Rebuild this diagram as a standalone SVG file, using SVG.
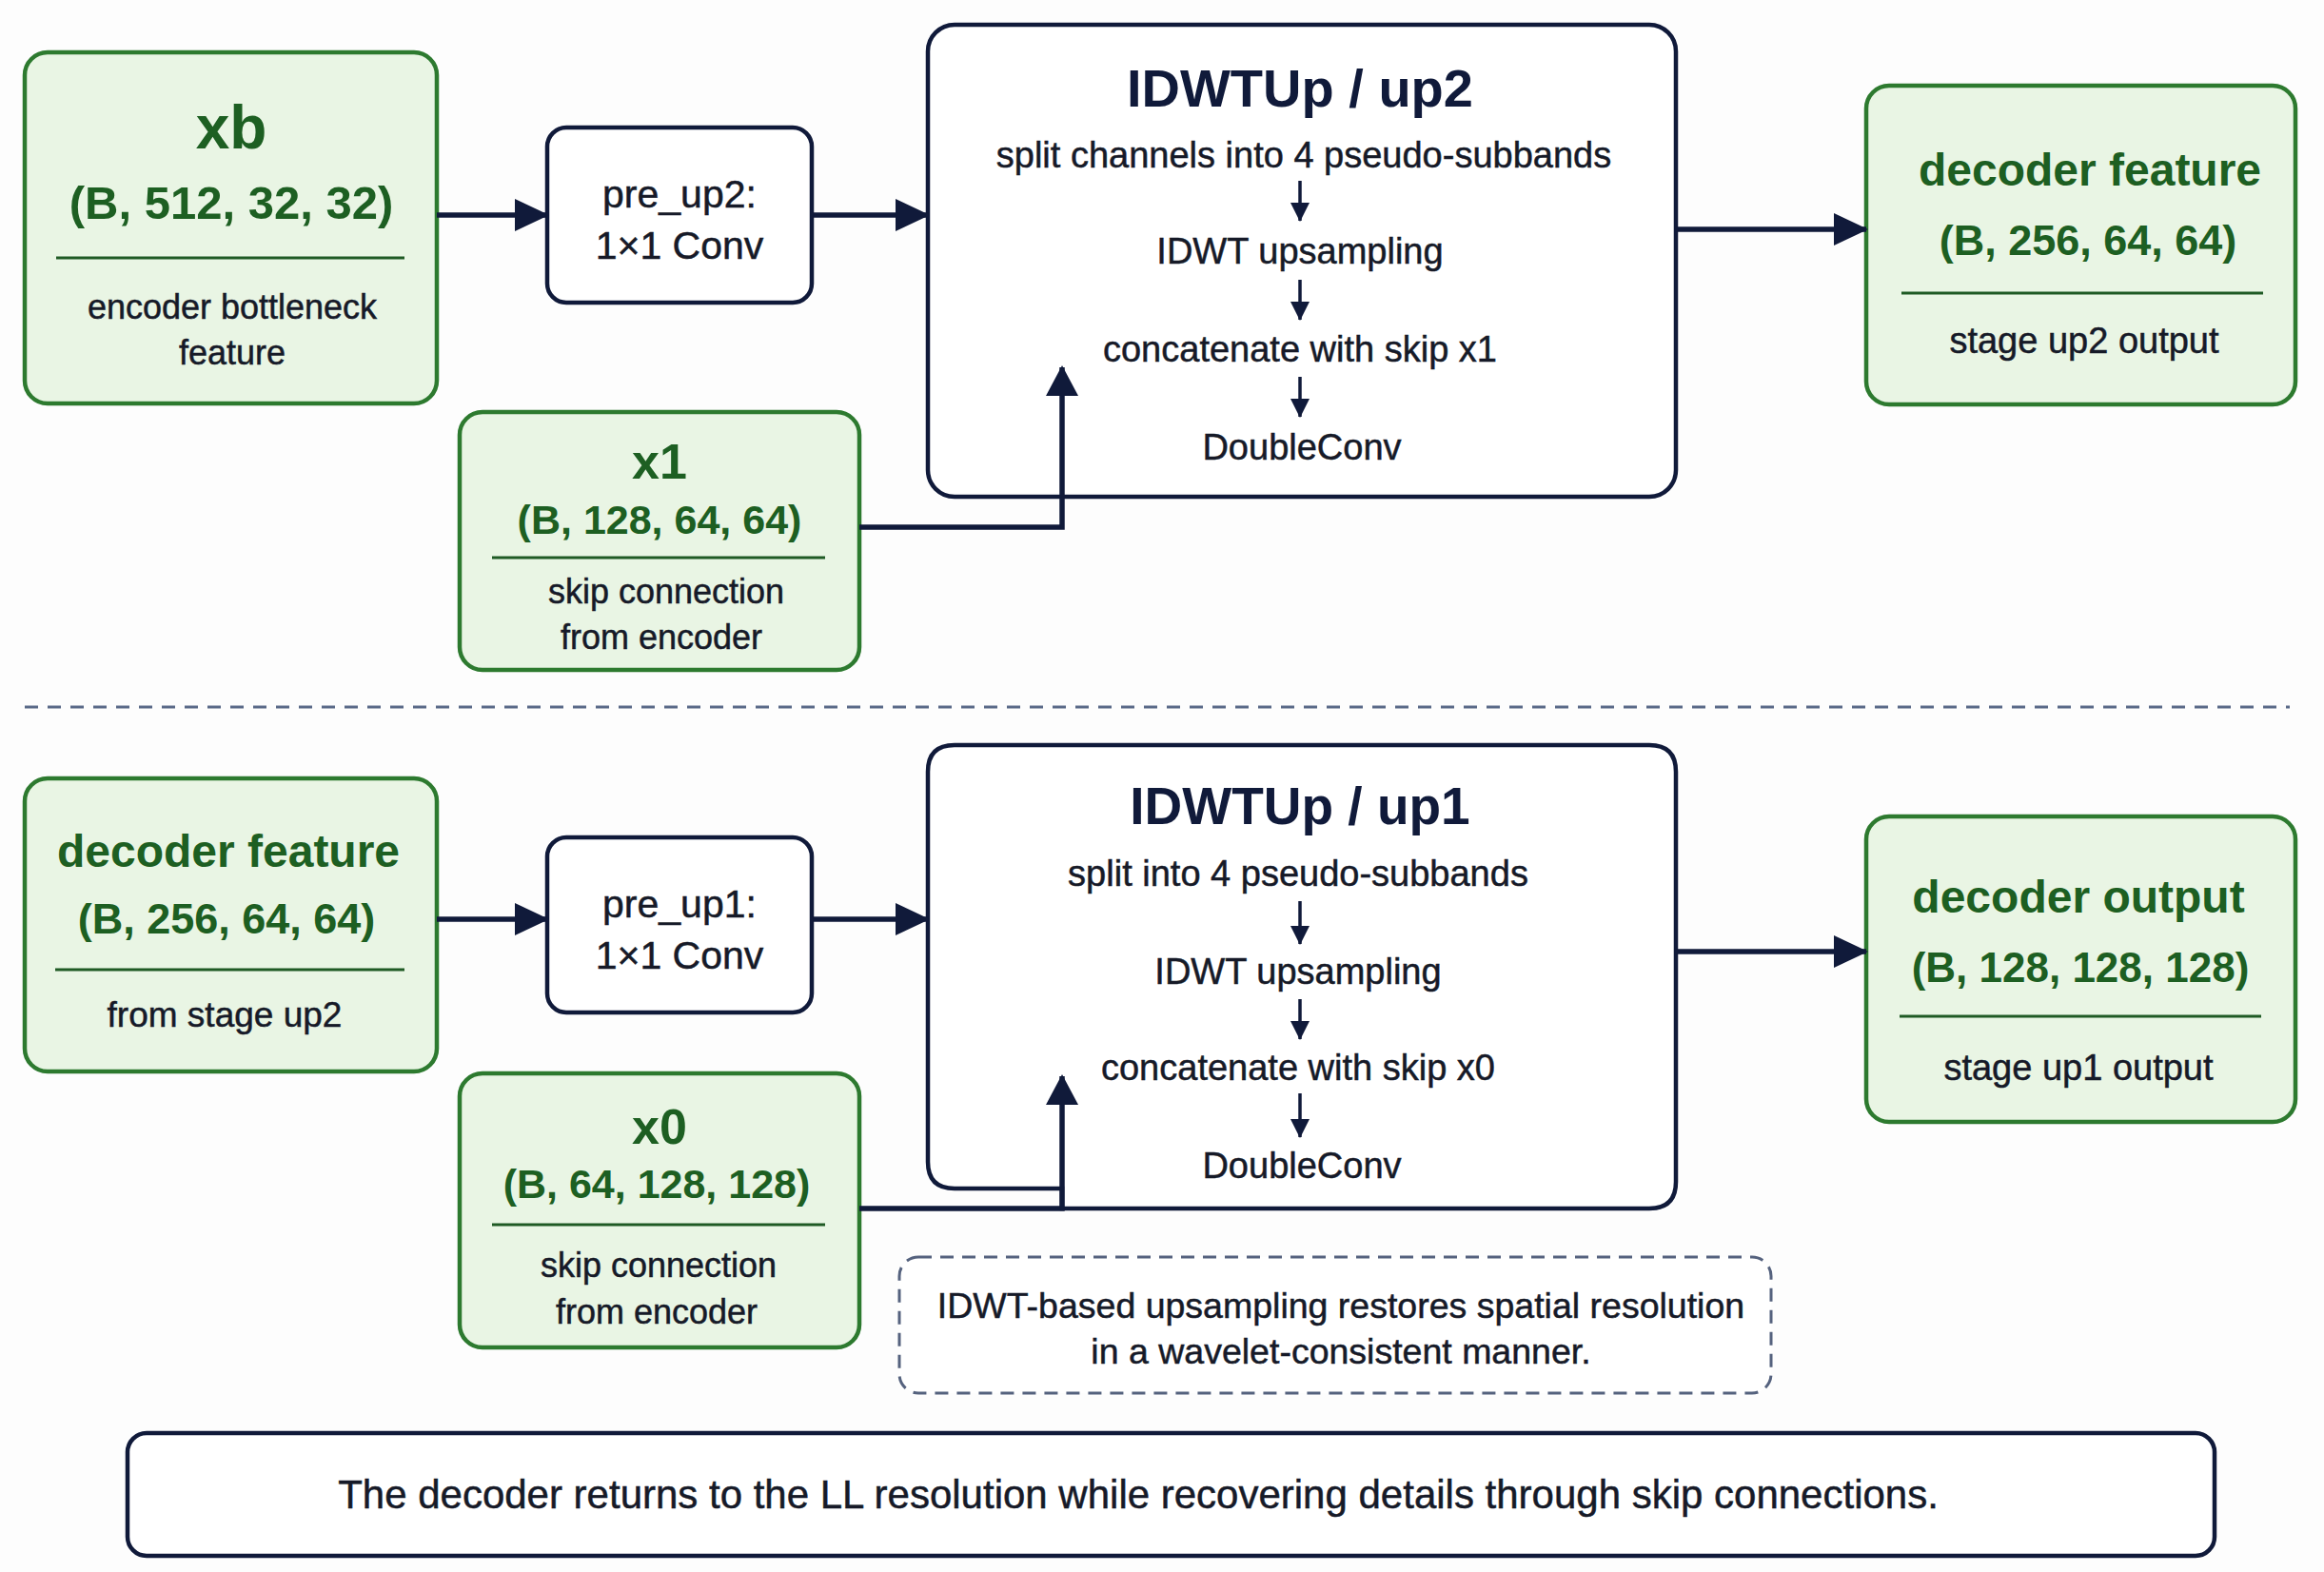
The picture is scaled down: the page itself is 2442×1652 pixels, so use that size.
<svg xmlns="http://www.w3.org/2000/svg" width="2442" height="1652" viewBox="0 0 2442 1652">
<defs>
<style>
.g{fill:#e9f5e4;stroke:#2d7a2f;stroke-width:4.5}
.w{fill:#ffffff;stroke:#101a3a;stroke-width:4.5}
.div{stroke:#1f5a24;stroke-width:3}
.t{font-family:"Liberation Sans",Arial,sans-serif;text-anchor:middle}
.gt{fill:#1d5f22;font-weight:bold}
.dt{fill:#161a28;stroke:#161a28;stroke-width:0.5}
.bt{fill:#101a3a;font-weight:bold}
.con{stroke:#101a3a;stroke-width:5.5;fill:none}
.sm{stroke:#101a3a;stroke-width:3.5;fill:none}
</style>
<marker id="ah" markerWidth="36" markerHeight="34" refX="34" refY="17" orient="auto" markerUnits="userSpaceOnUse"><path d="M0,0 L36,17 L0,34 Z" fill="#101a3a"/></marker>
<marker id="uh" markerWidth="32" markerHeight="34" refX="30" refY="17" orient="auto" markerUnits="userSpaceOnUse"><path d="M0,0 L32,17 L0,34 Z" fill="#101a3a"/></marker>
<marker id="sh" markerWidth="20" markerHeight="22" refX="19" refY="11" orient="auto" markerUnits="userSpaceOnUse"><path d="M0,1 L20,11 L0,21 Z" fill="#101a3a"/></marker>
</defs>
<rect width="2442" height="1652" fill="#fdfdfd"/>

<line x1="26" y1="743" x2="2406" y2="743" stroke="#5a6a88" stroke-width="3" stroke-dasharray="14,10"/>

<g id="xb">
<rect class="g" x="26" y="55" width="433" height="369" rx="24"/>
<text class="t gt" x="243" y="156" font-size="64">xb</text>
<text class="t gt" x="243" y="230" font-size="49">(B, 512, 32, 32)</text>
<line class="div" x1="59" y1="271" x2="425" y2="271"/>
<text class="t dt" x="244" y="335" font-size="36">encoder bottleneck</text>
<text class="t dt" x="244" y="383" font-size="36">feature</text>
</g>

<g id="pre_up2">
<rect class="w" x="575" y="134" width="278" height="184" rx="20"/>
<text class="t dt" x="714" y="218" font-size="41">pre_up2:</text>
<text class="t dt" x="714" y="272" font-size="41">1×1 Conv</text>
</g>

<g id="idwtup2">
<rect class="w" x="975" y="26" width="786" height="496" rx="28"/>
<text class="t bt" x="1366" y="112" font-size="56">IDWTUp / up2</text>
<text class="t dt" x="1370" y="176" font-size="38">split channels into 4 pseudo-subbands</text>
<line class="sm" x1="1366" y1="190" x2="1366" y2="232" marker-end="url(#sh)"/>
<text class="t dt" x="1366" y="277" font-size="38">IDWT upsampling</text>
<line class="sm" x1="1366" y1="294" x2="1366" y2="336" marker-end="url(#sh)"/>
<text class="t dt" x="1366" y="380" font-size="38">concatenate with skip x1</text>
<line class="sm" x1="1366" y1="396" x2="1366" y2="438" marker-end="url(#sh)"/>
<text class="t dt" x="1368" y="483" font-size="38">DoubleConv</text>
</g>

<g id="x1">
<rect class="g" x="483" y="433" width="420" height="271" rx="24"/>
<text class="t gt" x="693" y="503" font-size="52">x1</text>
<text class="t gt" x="693" y="561" font-size="43">(B, 128, 64, 64)</text>
<line class="div" x1="517" y1="586" x2="867" y2="586"/>
<text class="t dt" x="700" y="634" font-size="36">skip connection</text>
<text class="t dt" x="695" y="682" font-size="36">from encoder</text>
</g>

<g id="out_up2">
<rect class="g" x="1961" y="90" width="451" height="335" rx="24"/>
<text class="t gt" x="2196" y="195" font-size="48">decoder feature</text>
<text class="t gt" x="2194" y="268" font-size="45">(B, 256, 64, 64)</text>
<line class="div" x1="1998" y1="308" x2="2378" y2="308"/>
<text class="t dt" x="2190" y="371" font-size="38">stage up2 output</text>
</g>

<g id="dec_in">
<rect class="g" x="26" y="818" width="433" height="308" rx="24"/>
<text class="t gt" x="240" y="911" font-size="48">decoder feature</text>
<text class="t gt" x="238" y="981" font-size="45">(B, 256, 64, 64)</text>
<line class="div" x1="58" y1="1019" x2="425" y2="1019"/>
<text class="t dt" x="236" y="1079" font-size="37">from stage up2</text>
</g>

<g id="pre_up1">
<rect class="w" x="575" y="880" width="278" height="184" rx="20"/>
<text class="t dt" x="714" y="964" font-size="41">pre_up1:</text>
<text class="t dt" x="714" y="1018" font-size="41">1×1 Conv</text>
</g>

<g id="idwtup1">
<path class="w" d="M1003,783 L1733,783 Q1761,783 1761,811 L1761,1242 Q1761,1270 1733,1270 L1116,1270 L1116,1249 L1003,1249 Q975,1249 975,1221 L975,811 Q975,783 1003,783 Z"/>
<text class="t bt" x="1366" y="866" font-size="55">IDWTUp / up1</text>
<text class="t dt" x="1364" y="931" font-size="38">split into 4 pseudo-subbands</text>
<line class="sm" x1="1366" y1="947" x2="1366" y2="992" marker-end="url(#sh)"/>
<text class="t dt" x="1364" y="1034" font-size="38">IDWT upsampling</text>
<line class="sm" x1="1366" y1="1050" x2="1366" y2="1092" marker-end="url(#sh)"/>
<text class="t dt" x="1364" y="1135" font-size="38">concatenate with skip x0</text>
<line class="sm" x1="1366" y1="1149" x2="1366" y2="1195" marker-end="url(#sh)"/>
<text class="t dt" x="1368" y="1238" font-size="38">DoubleConv</text>
</g>

<g id="x0">
<rect class="g" x="483" y="1128" width="420" height="288" rx="24"/>
<text class="t gt" x="693" y="1202" font-size="52">x0</text>
<text class="t gt" x="690" y="1259" font-size="43">(B, 64, 128, 128)</text>
<line class="div" x1="517" y1="1287" x2="867" y2="1287"/>
<text class="t dt" x="692" y="1342" font-size="36">skip connection</text>
<text class="t dt" x="690" y="1391" font-size="36">from encoder</text>
</g>

<g id="out_up1">
<rect class="g" x="1961" y="858" width="451" height="321" rx="24"/>
<text class="t gt" x="2184" y="959" font-size="48">decoder output</text>
<text class="t gt" x="2186" y="1032" font-size="44">(B, 128, 128, 128)</text>
<line class="div" x1="1996" y1="1068" x2="2376" y2="1068"/>
<text class="t dt" x="2184" y="1135" font-size="38">stage up1 output</text>
</g>

<g id="note">
<rect x="945" y="1321" width="916" height="143" rx="20" fill="#ffffff" stroke="#55627e" stroke-width="3" stroke-dasharray="14,9"/>
<text class="t dt" x="1409" y="1385" font-size="37.5">IDWT-based upsampling restores spatial resolution</text>
<text class="t dt" x="1409" y="1433" font-size="37.5">in a wavelet-consistent manner.</text>
</g>

<g id="caption">
<rect class="w" x="134" y="1506" width="2193" height="129" rx="20"/>
<text class="t dt" x="1196" y="1585" font-size="42">The decoder returns to the LL resolution while recovering details through skip connections.</text>
</g>

<g id="connectors">
<line class="con" x1="459" y1="226" x2="575" y2="226" marker-end="url(#ah)"/>
<line class="con" x1="853" y1="226" x2="975" y2="226" marker-end="url(#ah)"/>
<line class="con" x1="1761" y1="241" x2="1961" y2="241" marker-end="url(#ah)"/>
<path class="con" d="M903,554 L1116,554 L1116,386" marker-end="url(#uh)"/>
<line class="con" x1="459" y1="966" x2="575" y2="966" marker-end="url(#ah)"/>
<line class="con" x1="853" y1="966" x2="975" y2="966" marker-end="url(#ah)"/>
<line class="con" x1="1761" y1="1000" x2="1961" y2="1000" marker-end="url(#ah)"/>
<path class="con" d="M903,1270 L1116,1270 L1116,1131" marker-end="url(#uh)"/>
</g>
</svg>
